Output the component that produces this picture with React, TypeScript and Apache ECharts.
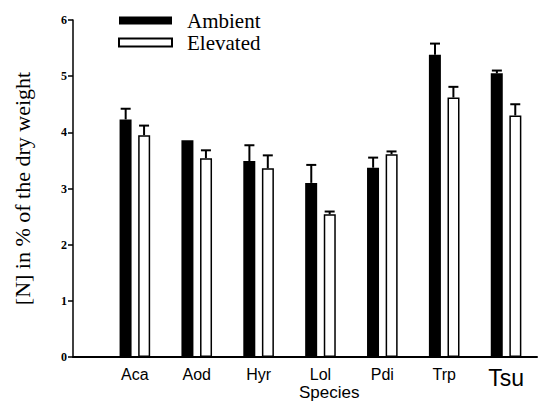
import React, { useEffect, useRef } from "react";
import * as echarts from "echarts";

const species = ["Aca", "Aod", "Hyr", "Lol", "Pdi", "Trp", "Tsu"];
const ambient = [4.23, 3.86, 3.49, 3.1, 3.37, 5.38, 5.05];
const ambientErr = [0.19, 0, 0.28, 0.32, 0.18, 0.2, 0.05];
const elevated = [3.95, 3.54, 3.36, 2.54, 3.61, 4.62, 4.3];
const elevatedErr = [0.17, 0.14, 0.23, 0.05, 0.05, 0.19, 0.2];
const yTicks = [0, 1, 2, 3, 4, 5, 6];

const BAR_W = 12;
const OFFSET = 9.2;

function errSeries(name: string, vals: number[], errs: number[], dx: number) {
  return {
    type: "custom",
    name: name + " SE",
    z: 5,
    silent: true,
    data: vals.map((v, i) => [i + 1, v, errs[i]]),
    renderItem: (params: any, api: any) => {
      const e = api.value(2);
      if (!e) return null;
      const base = api.coord([api.value(0), api.value(1)]);
      const top = api.coord([api.value(0), api.value(1) + e]);
      const cx = base[0] + dx;
      return {
        type: "group",
        children: [
          {
            type: "line",
            shape: { x1: cx, y1: base[1], x2: cx, y2: top[1] },
            style: { stroke: "#000", lineWidth: 2 },
          },
          {
            type: "line",
            shape: { x1: cx - 5, y1: top[1], x2: cx + 5, y2: top[1] },
            style: { stroke: "#000", lineWidth: 2 },
          },
        ],
      };
    },
  };
}

export default function App() {
  const ref = useRef<HTMLDivElement>(null);
  useEffect(() => {
    if (!ref.current) return;
    const chart = echarts.init(ref.current, undefined, { renderer: "svg" });
    chart.setOption({
      animation: false,
      backgroundColor: "#fff",
      grid: { left: 73, right: 2, top: 20, bottom: 46 },
      legend: {
        orient: "vertical",
        left: 118,
        top: 10,
        padding: 0,
        itemWidth: 53,
        itemHeight: 8,
        itemGap: 1,
        icon: "rect",
        data: ["Ambient", "Elevated"],
        textStyle: {
          fontFamily: "Liberation Serif",
          fontSize: 21,
          color: "#000",
          padding: [0, 0, 0, 10],
        },
      },
      xAxis: {
        type: "value",
        min: 0,
        max: 7.5,
        interval: 1,
        splitLine: { show: false },
        axisLine: { show: true, onZero: false, lineStyle: { color: "#000", width: 2 } },
        axisTick: { show: false },
        axisLabel: {
          margin: 9,
          color: "#000",
          fontFamily: "Liberation Sans",
          fontSize: 16,
          formatter: (v: number) => {
            const n = species[v - 1];
            if (!n || Math.round(v) !== v) return "";
            return n === "Tsu" ? "{big|" + n + "}" : n;
          },
          rich: {
            big: { fontFamily: "Liberation Sans", fontSize: 23, color: "#000", padding: [0, 0, 4, 0] },
          },
        },
      },
      yAxis: {
        type: "value",
        min: yTicks[0],
        max: yTicks[yTicks.length - 1],
        interval: 1,
        splitLine: { show: false },
        axisLine: { show: true, lineStyle: { color: "#000", width: 1.5 } },
        axisTick: { show: true, inside: false, length: 5, lineStyle: { color: "#000", width: 1.5 } },
        axisLabel: {
          margin: 6,
          color: "#000",
          fontFamily: "Liberation Serif",
          fontWeight: "bold",
          fontSize: 12,
        },
        name: "[N] in % of the dry weight",
        nameLocation: "middle",
        nameGap: 40,
        nameTextStyle: { fontFamily: "Liberation Serif", fontSize: 22, color: "#000" },
      },
      graphic: [
        {
          type: "text",
          left: 299,
          top: 384,
          style: {
            text: "Species",
            font: "17px 'Liberation Sans'",
            fill: "#000",
          },
        },
      ],
      series: [
        {
          type: "bar",
          name: "Ambient",
          barWidth: BAR_W,
          barGap: "55%",
          itemStyle: { color: "#000" },
          data: ambient.map((v, i) => [i + 1, v]),
        },
        {
          type: "bar",
          name: "Elevated",
          barWidth: BAR_W,
          barGap: "55%",
          itemStyle: { color: "#fff", borderColor: "#000", borderWidth: 1.5 },
          data: elevated.map((v, i) => [i + 1, v]),
        },
        errSeries("Ambient", ambient, ambientErr, -OFFSET),
        errSeries("Elevated", elevated, elevatedErr, OFFSET),
      ],
    });
    return () => chart.dispose();
  }, []);
  return (
    <div
      ref={ref}
      style={{ position: "fixed", left: 0, top: 0, width: 540, height: 403 }}
    />
  );
}
